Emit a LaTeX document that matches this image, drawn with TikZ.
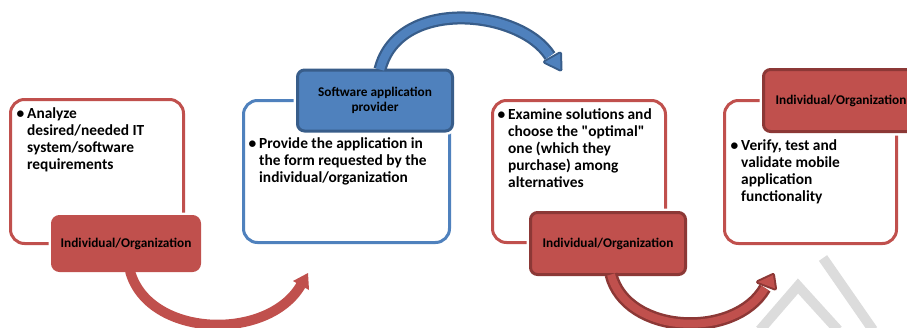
\documentclass[tikz,border=0pt]{standalone}
\usepackage{fontspec}
\setmainfont{Carlito}[Ligatures=TeXOff]
\definecolor{accred}{HTML}{C0504D}
\definecolor{darkred}{HTML}{8C3836}
\definecolor{accblue}{HTML}{4F81BD}
\definecolor{darkblue}{HTML}{385D8A}
\definecolor{wmgray}{HTML}{DCDCDC}
\begin{document}
\begin{tikzpicture}[x=1pt,y=-1pt,
  panel/.style={draw=#1, line width=3pt, rounded corners=14pt, fill=white, inner sep=0pt},
  tag/.style 2 args={fill=#1, draw=#2, line width=3pt, rounded corners=7pt,
    preaction={draw=white, line width=8pt}, inner sep=0pt, align=center,
    font=\fontsize{13.3}{14.5}\selectfont\bfseries},
  txt/.style={anchor=base west, align=left, inner sep=0pt,
    font=\fontsize{15.4}{17}\selectfont\bfseries},
  wm/.style={draw=wmgray, line width=10pt}
]
\useasboundingbox (0,0) rectangle (907,327);
\clip (0,0) rectangle (907,327);

% watermark strokes
\draw[wm] (823,258) -- (873,330);
\draw[wm, line join=miter] (760,330) -- (798,286) -- (838,330);

% panels
\node[panel=accred, minimum width=173pt, minimum height=144pt] (b1) at (97,171.5) {};
\node[panel=accblue, minimum width=206pt, minimum height=142pt] (b2) at (346.5,171.5) {};
\node[panel=accred, minimum width=173pt, minimum height=142pt] (b3) at (579,171.5) {};
\node[panel=accred, minimum width=172pt, minimum height=143pt] (b4) at (810.5,172) {};

% tags
\node[tag={accred}{accred}, minimum width=147pt, minimum height=54pt] (l1) at (126,243.5) {Individual/Organization};
\node[tag={accblue}{darkblue}, minimum width=155pt, minimum height=61pt] (l2) at (375,100.5) {Software application\\provider};
\node[tag={accred}{darkred}, minimum width=155pt, minimum height=62pt] (l3) at (608,243.5) {Individual/Organization};
\node[tag={accred}{darkred}, minimum width=155pt, minimum height=62pt] (l4) at (841,100.5) {Individual/Organization};

% arrow 1 (red, flat)
\coordinate (a1s) at (130,271);
\coordinate (a1e) at (301,285);
\coordinate (a1t) at (308,273);
\coordinate (a1w) at (293,281);
\coordinate (a1v) at (309,290);
\draw[accred, line width=10pt] (a1s) .. controls (148,338) and (268,342) .. (a1e);
\fill[accred] (a1t) -- (a1w) -- (a1v) -- cycle;

% arrow 2 (blue, outlined)
\coordinate (a2s) at (380,69.5);
\coordinate (a2e) at (550,56);
\coordinate (a2t) at (560.5,69.5);
\coordinate (a2w) at (545,62);
\coordinate (a2v) at (560,53.5);
\draw[darkblue, line width=13pt] (a2s) .. controls (398,-3) and (520,9) .. (a2e);
\filldraw[darkblue, line width=4pt, line join=round] (a2t) -- (a2w) -- (a2v) -- cycle;
\draw[accblue, line width=8.5pt] (a2s) .. controls (398,-3) and (520,9) .. (a2e);
\fill[accblue] (a2t) -- (a2w) -- (a2v) -- cycle;

% arrow 3 (red, outlined)
\coordinate (a3s) at (611,274.5);
\coordinate (a3e) at (765,288);
\coordinate (a3t) at (773,275);
\coordinate (a3w) at (758,282);
\coordinate (a3v) at (775,288.5);
\draw[darkred, line width=13pt] (a3s) .. controls (626,335) and (735,340) .. (a3e);
\filldraw[darkred, line width=4pt, line join=round] (a3t) -- (a3w) -- (a3v) -- cycle;
\draw[accred, line width=8pt] (a3s) .. controls (626,335) and (735,340) .. (a3e);
\fill[accred] (a3t) -- (a3w) -- (a3v) -- cycle;

% texts (anchor base = baseline of the last line)
\node[txt] (t1) at (27,169.5) {\llap{•\hspace{3pt}}Analyze\\desired/needed IT\\system/software\\requirements};
\node[txt] (t2) at (259,182.5) {\llap{•\hspace{3pt}}Provide the application in\\the form requested by the\\individual/organization};
\node[txt] (t3) at (508,187.5) {\llap{•\hspace{3pt}}Examine solutions and\\choose the "optimal"\\one (which they\\purchase) among\\alternatives};
\node[txt] (t4) at (741,201) {\llap{•\hspace{3pt}}Verify, test and\\validate mobile\\application\\functionality};
\end{tikzpicture}
\end{document}
